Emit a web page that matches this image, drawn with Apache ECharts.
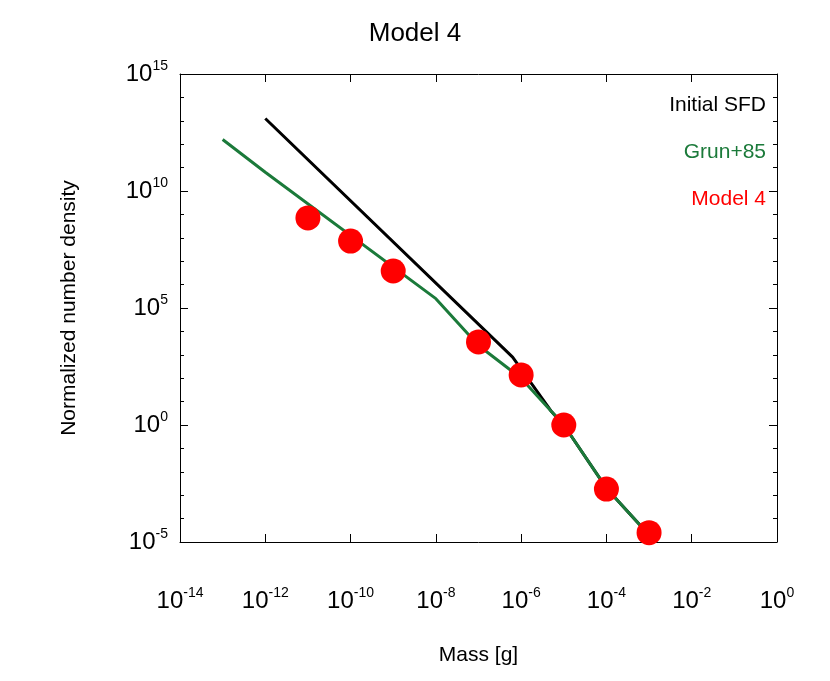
<!DOCTYPE html>
<html>
<head>
<meta charset="utf-8">
<script src="https://cdn.jsdelivr.net/npm/echarts@6/dist/echarts.min.js"></script>
<style>html,body{margin:0;background:#fff}#main{width:830px;height:681px}</style>
</head>
<body>
<div id="main"></div>
<script>
// values are log10 of mass [g] and log10 of normalized number density
var initialX=[-12,-6.2,-5.3,-5,-4,-3];
var initialY=[13.1,2.9,0.6,0,-2.7,-4.7];
var grunX=[-13,-12,-8,-7,-6,-5,-4,-3];
var grunY=[12.2,10.8,5.4,3.4,2.0,0,-2.7,-4.7];
var modelX=[-11,-10,-9,-7,-6,-5,-4,-3];
var modelY=[8.85,7.86,6.58,3.55,2.14,0,-2.74,-4.6];

function pairs(xs,ys){
  var out=[];
  for(var i=0;i<xs.length;i++){out.push([xs[i],ys[i]]);}
  return out;
}
//指数标签
function powLabel(v){return '10{s|'+v+'}';}
var rich={s:{fontSize:14,verticalAlign:'top',padding:[0,0,16,0],fontFamily:'Liberation Sans'}};
var font='Liberation Sans';

function xAx(mirror){
  return {
    type:'value',min:-14,max:0,interval:2,position:mirror?'top':'bottom',
    name:mirror?'':'Mass [g]',nameLocation:'middle',nameGap:103,
    nameTextStyle:{fontFamily:font,fontSize:21,color:'#000'},
    axisLine:{onZero:false,lineStyle:{color:'#000'}},
    axisTick:{inside:true,length:8,lineStyle:{color:'#000'}},
    splitLine:{show:false},
    axisLabel:{show:!mirror,margin:44,color:'#000',fontSize:24,fontFamily:font,formatter:powLabel,rich:rich}
  };
}
function yAx(mirror){
  return {
    type:'value',min:-5,max:15,interval:5,position:mirror?'right':'left',
    name:mirror?'':'Normalized number density',nameLocation:'middle',nameGap:100,
    nameTextStyle:{fontFamily:font,fontSize:21,color:'#000'},
    axisLine:{onZero:false,lineStyle:{color:'#000'}},
    axisTick:{inside:true,length:8,lineStyle:{color:'#000'}},
    minorTick:{show:true,splitNumber:5,length:4,lineStyle:{color:'#000'}},
    splitLine:{show:false},
    axisLabel:{show:!mirror,margin:12,color:'#000',fontSize:24,fontFamily:font,formatter:powLabel,rich:rich}
  };
}

var myChart=echarts.init(document.getElementById('main'));
var option={
  animation:false,
  title:{text:'Model 4',left:'center',top:16,textStyle:{fontFamily:font,fontSize:26,fontWeight:'normal',color:'#000'}},
  grid:{left:180,right:53,top:74,bottom:139},
  xAxis:[xAx(false),xAx(true)],
  yAxis:[yAx(false),yAx(true)],
  series:[
    {name:'Initial SFD',type:'line',data:pairs(initialX,initialY),showSymbol:false,lineStyle:{color:'#000',width:3},z:2},
    {name:'Grun+85',type:'line',data:pairs(grunX,grunY),showSymbol:false,lineStyle:{color:'#1b7a3a',width:3},z:3},
    {name:'Model 4',type:'scatter',data:pairs(modelX,modelY),symbolSize:25,itemStyle:{color:'#ff0000',opacity:1},z:4}
  ],
  graphic:[
    {type:'text',right:64,top:95,style:{text:'Initial SFD',fill:'#000',font:'21px Liberation Sans'}},
    {type:'text',right:64,top:142,style:{text:'Grun+85',fill:'#1b7a3a',font:'21px Liberation Sans'}},
    {type:'text',right:64,top:189,style:{text:'Model 4',fill:'#ff0000',font:'21px Liberation Sans'}}
  ]
};
myChart.setOption(option);
</script>
</body>
</html>
